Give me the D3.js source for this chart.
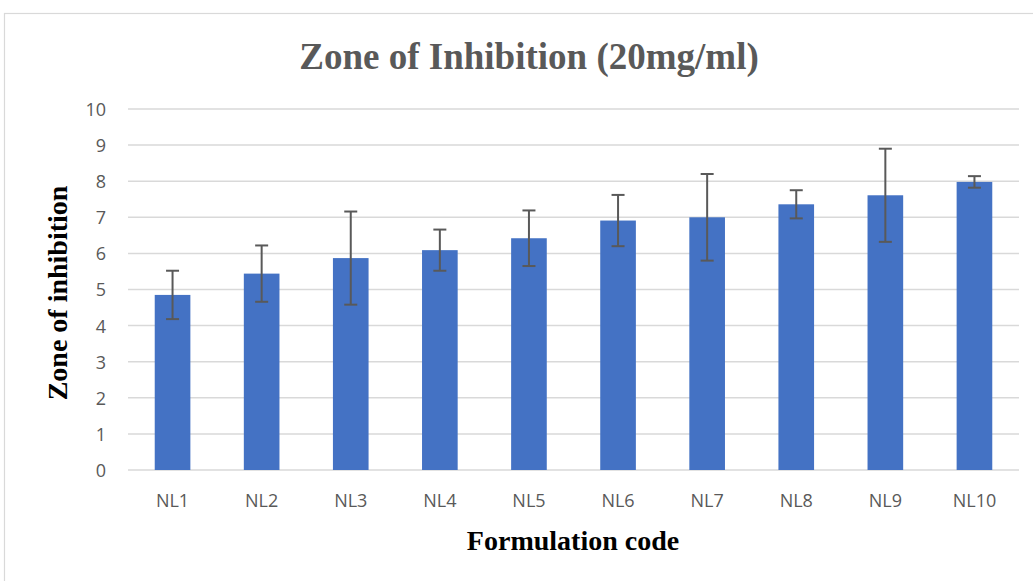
<!DOCTYPE html>
<html>
<head>
<meta charset="utf-8">
<script src="https://cdn.jsdelivr.net/npm/d3@7"></script>
<style>
  html, body { margin: 0; padding: 0; background: #fff; }
  svg { display: block; }
</style>
</head>
<body>
<svg id="chart" width="1033" height="581"></svg>
<script>
const categories = ["NL1","NL2","NL3","NL4","NL5","NL6","NL7","NL8","NL9","NL10"];
const values = [4.85, 5.44, 5.87, 6.09, 6.42, 6.91, 7.00, 7.36, 7.61, 7.98];
const errors = [0.67, 0.78, 1.29, 0.57, 0.77, 0.71, 1.20, 0.39, 1.29, 0.16];
const yTicks = [0,1,2,3,4,5,6,7,8,9,10];
const titleText = "Zone of Inhibition (20mg/ml)";
const xTitle = "Formulation code";
const yTitle = "Zone of inhibition";

const svg = d3.select("#chart");
const plot = { left: 128, right: 1019, top: 109, bottom: 470 };

// frame
svg.append("rect").attr("x", 4.5).attr("y", 13.5).attr("width", 1200).attr("height", 800)
  .attr("fill", "none").attr("stroke", "#d9d9d9").attr("stroke-width", 1.2);

const x = d3.scaleBand().domain(categories).range([plot.left, plot.right])
  .paddingInner(0.6).paddingOuter(0.3);
const y = d3.scaleLinear().domain([0, 10]).range([plot.bottom, plot.top]);

// gridlines
svg.append("g").selectAll("line").data(yTicks).join("line")
  .attr("x1", plot.left).attr("x2", plot.right)
  .attr("y1", d => y(d)).attr("y2", d => y(d))
  .attr("stroke", "#d9d9d9").attr("stroke-width", 1.5);

// y axis labels
const yAxis = d3.axisLeft(y).tickValues(yTicks).tickSize(0).tickPadding(0);
const gy = svg.append("g").attr("transform", `translate(${plot.left - 22},0)`).call(yAxis);
gy.select(".domain").remove();
gy.selectAll("text").attr("font-family", "'Open Sans', sans-serif").attr("font-size", 18)
  .attr("fill", "#595959").attr("dy", "0.36em");

// x axis labels
const xAxis = d3.axisBottom(x).tickSize(0).tickPadding(0);
const gx = svg.append("g").attr("transform", `translate(0,${plot.bottom + 24})`).call(xAxis);
gx.select(".domain").remove();
gx.selectAll("text").attr("font-family", "'Open Sans', sans-serif").attr("font-size", 18)
  .attr("fill", "#595959").attr("dy", "0.71em");

// bars
const data = categories.map((c, i) => ({ c, v: values[i], e: errors[i] }));
svg.append("g").selectAll("rect").data(data).join("rect")
  .attr("x", d => x(d.c)).attr("width", x.bandwidth())
  .attr("y", d => y(d.v)).attr("height", d => y(0) - y(d.v))
  .attr("fill", "#4472c4");

// error bars
const cap = 6.5;
const eg = svg.append("g").attr("stroke", "#595959").attr("stroke-width", 2).attr("fill", "none");
data.forEach(d => {
  const cx = x(d.c) + x.bandwidth() / 2;
  eg.append("line").attr("x1", cx).attr("x2", cx).attr("y1", y(d.v + d.e)).attr("y2", y(d.v - d.e));
  eg.append("line").attr("x1", cx - cap).attr("x2", cx + cap).attr("y1", y(d.v + d.e)).attr("y2", y(d.v + d.e));
  eg.append("line").attr("x1", cx - cap).attr("x2", cx + cap).attr("y1", y(d.v - d.e)).attr("y2", y(d.v - d.e));
});

// title
svg.append("text").attr("x", 529).attr("y", 69).attr("text-anchor", "middle")
  .attr("font-family", "'Liberation Serif', 'Times New Roman', serif").attr("font-weight", "bold")
  .attr("font-size", 37).attr("fill", "#595959").text(titleText);

// x title
svg.append("text").attr("x", 573).attr("y", 550).attr("text-anchor", "middle")
  .attr("font-family", "'Liberation Serif', 'Times New Roman', serif").attr("font-weight", "bold")
  .attr("font-size", 28).attr("fill", "#000").text(xTitle);

// y title
svg.append("text").attr("transform", "translate(67,293) rotate(-90)").attr("text-anchor", "middle")
  .attr("font-family", "'Liberation Serif', 'Times New Roman', serif").attr("font-weight", "bold")
  .attr("font-size", 28).attr("fill", "#000").text(yTitle);
</script>
</body>
</html>
